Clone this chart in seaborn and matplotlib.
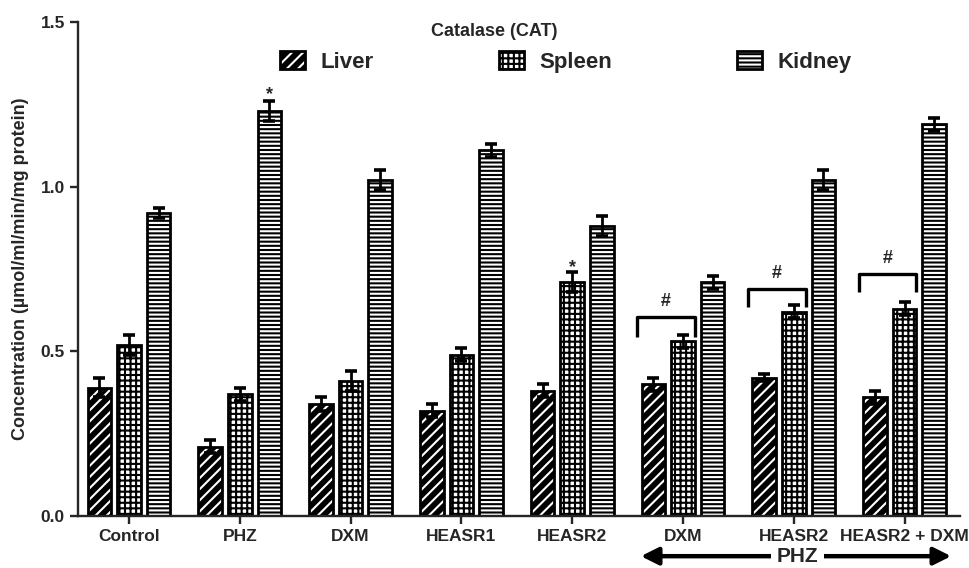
import matplotlib
matplotlib.use("Agg")
import matplotlib.pyplot as plt
from matplotlib.patches import Patch, Rectangle
from matplotlib.legend_handler import HandlerTuple
import seaborn as sns
import pandas as pd
import numpy as np

# ---------------- data ----------------
groups = ["Control", "PHZ", "DXM", "HEASR1", "HEASR2",
          "PHZ + DXM", "PHZ + HEASR2", "PHZ + HEASR2 + DXM"]
tick_labels = ["Control", "PHZ", "DXM", "HEASR1", "HEASR2",
               "DXM", "HEASR2", "HEASR2 + DXM"]
organs = ["Liver", "Spleen", "Kidney"]
liver = [0.39, 0.21, 0.34, 0.32, 0.38, 0.40, 0.42, 0.36]
spleen = [0.52, 0.37, 0.41, 0.49, 0.71, 0.53, 0.62, 0.63]
kidney = [0.92, 1.23, 1.02, 1.11, 0.88, 0.71, 1.02, 1.19]
liver_err = [0.03, 0.02, 0.02, 0.02, 0.02, 0.02, 0.01, 0.02]
spleen_err = [0.03, 0.02, 0.03, 0.02, 0.03, 0.02, 0.02, 0.02]
kidney_err = [0.015, 0.03, 0.03, 0.02, 0.03, 0.02, 0.03, 0.02]
# significance marks: (group index, organ index, y)
stars = [(1, 2, 1.28), (4, 1, 0.755)]
# '#' brackets over liver+spleen: (group index, top y, leg bottom y)
brackets = [(5, 0.605, 0.545), (6, 0.69, 0.635), (7, 0.735, 0.68)]

values = [liver, spleen, kidney]
errors = [liver_err, spleen_err, kidney_err]
df = pd.DataFrame({
    "group": np.repeat([groups], 3, axis=0).ravel(),
    "organ": np.repeat(organs, len(groups)),
    "value": np.concatenate(values),
})

# ---------------- style ----------------
sns.set_style("ticks")
plt.rcParams["font.family"] = ["Liberation Sans", "DejaVu Sans"]
plt.rcParams["font.weight"] = "bold"
plt.rcParams["hatch.linewidth"] = 1.5

fig = plt.figure(figsize=(9.69, 5.68), dpi=100)
ax = fig.add_axes([78 / 969, 1 - 516 / 568, (960 - 78) / 969, (516 - 22) / 568])

sns.barplot(data=df, x="group", y="value", hue="organ", order=groups,
            hue_order=organs, palette=["black", "white", "black"],
            errorbar=None, width=0.8, gap=0.2, legend=False, ax=ax)

styles = {
    "Liver": dict(face="black", hatch_col="white", hatch="///"),
    "Spleen": dict(face="white", hatch_col="black", hatch="+++"),
    "Kidney": dict(face="black", hatch_col="white", hatch="----"),
}

for organ, cont, err in zip(organs, ax.containers, errors):
    st = styles[organ]
    xs, hs = [], []
    for bar in cont:
        bar.set_facecolor(st["face"])
        bar.set_edgecolor(st["hatch_col"])
        bar.set_hatch(st["hatch"])
        bar.set_linewidth(0)
        ax.add_patch(Rectangle(bar.get_xy(), bar.get_width(), bar.get_height(),
                               fill=False, edgecolor="black", linewidth=2.0,
                               zorder=bar.get_zorder() + 0.1))
        xs.append(bar.get_x() + bar.get_width() / 2)
        hs.append(bar.get_height())
    ax.errorbar(xs, hs, yerr=err, fmt="none", ecolor="black",
                elinewidth=2.0, capsize=4.5, capthick=2.6, zorder=5)

# stars
for gi, oi, y in stars:
    bar = ax.containers[oi][gi]
    ax.text(bar.get_x() + bar.get_width() / 2, y, "*", ha="center",
            va="center", fontsize=13, fontweight="bold")

# brackets
for gi, ytop, ybot in brackets:
    b0 = ax.containers[0][gi]
    b1 = ax.containers[1][gi]
    x0 = b0.get_x() - 0.04
    x1 = b1.get_x() + b1.get_width()
    ax.plot([x0, x0, x1, x1], [ybot, ytop, ytop, ybot], color="black",
            lw=2.4, solid_capstyle="butt", zorder=6)
    ax.text((x0 + x1) / 2, ytop + 0.02, "#", ha="center", va="bottom",
            fontsize=13, fontweight="bold")

# axes
ax.set_xlim(-0.46, 7.5)
ax.set_ylim(0, 1.5)
ax.set_yticks([0.0, 0.5, 1.0, 1.5])
ax.set_yticklabels(["0.0", "0.5", "1.0", "1.5"])
ax.set_xticks(range(len(groups)))
ax.set_xticklabels(tick_labels)
ax.set_xlabel("")
ax.set_ylabel("Concentration (µmol/ml/min/mg protein)", fontsize=13,
              fontweight="bold", labelpad=8)
sns.despine(ax=ax)
for s in ["left", "bottom"]:
    ax.spines[s].set_linewidth(1.7)
ax.tick_params(axis="both", direction="out", length=6, width=1.7,
               labelsize=12.5)
for lab in ax.get_xticklabels() + ax.get_yticklabels():
    lab.set_fontweight("bold")

# PHZ arrow below the last three groups
ax.annotate("", xy=(4.62, -0.122), xytext=(7.42, -0.122),
            xycoords="data", textcoords="data", annotation_clip=False,
            arrowprops=dict(arrowstyle="<|-|>", lw=3.2, color="black",
                            mutation_scale=26, shrinkA=0, shrinkB=0))
ax.text(6.03, -0.122, "PHZ", ha="center", va="center", fontsize=15,
        fontweight="bold", clip_on=False,
        bbox=dict(facecolor="white", edgecolor="none", pad=4))

# legend
handles = []
for organ in organs:
    st = styles[organ]
    h1 = Patch(facecolor=st["face"], edgecolor=st["hatch_col"],
               hatch=st["hatch"], linewidth=0)
    h2 = Patch(facecolor="none", edgecolor="black", linewidth=2.0)
    handles.append((h1, h2))
leg = ax.legend(handles, organs, handler_map={tuple: HandlerTuple(ndivide=1)},
                ncol=3, frameon=False, loc="center",
                bbox_to_anchor=(566 / 969, 1 - 62 / 568),
                bbox_transform=fig.transFigure,
                prop=dict(size=16, weight="bold"),
                handlelength=1.15, handleheight=0.9, handletextpad=0.7,
                columnspacing=5.6)
fig.text(494 / 969, 1 - 32 / 568, "Catalase (CAT)", ha="center", va="center",
         fontsize=13, fontweight="bold")

fig.savefig("out.png", dpi=100)
